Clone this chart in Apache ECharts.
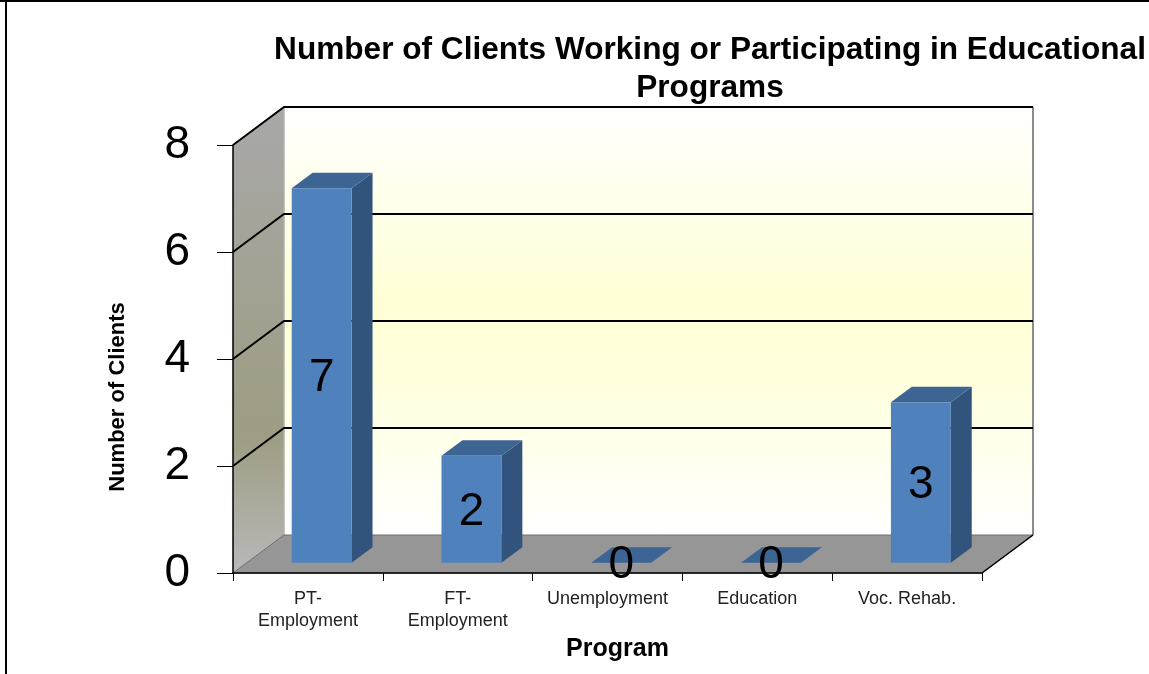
<!DOCTYPE html>
<html>
<head>
<meta charset="utf-8">
<script src="https://cdn.jsdelivr.net/npm/echarts@6/dist/echarts.min.js"></script>
<style>
html, body { margin: 0; padding: 0; background: #fff; }
#chart { width: 1149px; height: 674px; }
</style>
</head>
<body>
<div id="chart"></div>
<script>
var categories = ['PT-\nEmployment', 'FT-\nEmployment', 'Unemployment', 'Education', 'Voc. Rehab.'];
var clients = [7, 2, 0, 0, 3];
var yTicks = [0, 2, 4, 6, 8];

var DX = 51, DY = -38;          // depth of the 3d box
var FRONT = 0.27, BACK = 0.68;  // where the bars sit inside that depth
var FONT = '"Liberation Sans", Arial, sans-serif';

var chart = echarts.init(document.getElementById('chart'));

function renderWalls(params, api) {
	var cs = params.coordSys;
	var x0 = cs.x, x1 = cs.x + cs.width, yT = cs.y, yB = cs.y + cs.height;
	var kids = [];

	// left side wall
	kids.push({
		type: 'polygon',
		shape: { points: [[x0, yT], [x0 + DX, yT + DY], [x0 + DX, yB + DY], [x0, yB]] },
		style: {
			fill: new echarts.graphic.LinearGradient(0, 0, 0, 1, [
				{ offset: 0, color: '#a8a8a8' },
				{ offset: 0.7, color: '#9e9c82' },
				{ offset: 1, color: '#b8b8b8' }
			])
		}
	});
	// back wall
	kids.push({
		type: 'rect',
		shape: { x: x0 + DX, y: yT + DY, width: x1 - x0, height: yB - yT },
		style: {
			fill: new echarts.graphic.LinearGradient(0, 0, 0, 1, [
				{ offset: 0, color: '#ffffff' },
				{ offset: 0.45, color: '#ffffd6' },
				{ offset: 0.62, color: '#ffffdc' },
				{ offset: 1, color: '#ffffff' }
			])
		}
	});
	kids.push({
		type: 'line',
		shape: { x1: x0 + DX, y1: yT + DY, x2: x0 + DX, y2: yB + DY },
		style: { stroke: '#b0b0b0', lineWidth: 1.5 }
	});
	kids.push({
		type: 'line',
		shape: { x1: x1 + DX, y1: yT + DY, x2: x1 + DX, y2: yB + DY },
		style: { stroke: '#8c8c8c', lineWidth: 2 }
	});
	// floor
	kids.push({
		type: 'polygon',
		shape: { points: [[x0, yB], [x0 + DX, yB + DY], [x1 + DX, yB + DY], [x1, yB]] },
		style: { fill: '#969696', stroke: '#6e6e6e', lineWidth: 1 }
	});
	kids.push({
		type: 'line',
		shape: { x1: x1, y1: yB, x2: x1 + DX, y2: yB + DY },
		style: { stroke: '#000', lineWidth: 1.5 }
	});
	// gridlines bent over the side wall and the back wall
	yTicks.forEach(function (v) {
		if (v === 0) return;
		var y = api.coord([0, v])[1];
		kids.push({
			type: 'polyline',
			shape: { points: [[x0, y], [x0 + DX, y + DY], [x1 + DX, y + DY]] },
			style: { stroke: '#000', lineWidth: 2, fill: null }
		});
	});

	return { type: 'group', children: kids };
}

function renderBar(params, api) {
	var i = api.value(0), v = api.value(1);
	var top = api.coord([i, v]);
	var base = api.coord([i, 0]);
	var w = api.size([1, 0])[0] * 0.4;

	var fx = top[0] - w / 2 + FRONT * DX;
	var fyT = top[1] + FRONT * DY;
	var fyB = base[1] + FRONT * DY;
	var ox = (BACK - FRONT) * DX, oy = (BACK - FRONT) * DY;

	return {
		type: 'group',
		children: [
			{
				type: 'polygon',
				shape: { points: [[fx + w, fyT], [fx + w + ox, fyT + oy], [fx + w + ox, fyB + oy], [fx + w, fyB]] },
				style: { fill: '#32547c' }
			},
			{
				type: 'polygon',
				shape: { points: [[fx, fyT], [fx + ox, fyT + oy], [fx + w + ox, fyT + oy], [fx + w, fyT]] },
				style: { fill: '#3c6594' }
			},
			{
				type: 'rect',
				shape: { x: fx, y: fyT, width: w, height: fyB - fyT },
				style: { fill: '#4f81bd' }
			},
			{
				type: 'text',
				x: fx + w / 2,
				y: (fyT + fyB) / 2 + 3,
				style: {
					text: String(v),
					fontSize: 46,
					fontFamily: FONT,
					fill: '#000',
					align: 'center',
					verticalAlign: 'middle'
				}
			}
		]
	};
}

var option = {
	animation: false,
	backgroundColor: '#fff',
	title: {
		text: 'Number of Clients Working or Participating in Educational\nPrograms',
		left: 705,
		top: 26,
		textAlign: 'center',
		textStyle: {
			fontFamily: FONT,
			fontSize: 31.6,
			fontWeight: 'bold',
			lineHeight: 38,
			color: '#000'
		}
	},
	grid: { left: 233, right: 167, top: 145, bottom: 101 },
	xAxis: {
		type: 'category',
		data: categories,
		z: 10,
		name: 'Program',
		nameLocation: 'middle',
		nameGap: 58,
		nameTextStyle: {
			fontFamily: FONT, fontSize: 25, fontWeight: 'bold', color: '#000',
			padding: [0, 0, 0, 20]
		},
		axisLine: { lineStyle: { color: '#000', width: 1.5 } },
		axisTick: { show: true, length: 8, lineStyle: { color: '#000' } },
		axisLabel: {
			fontFamily: FONT, fontSize: 18, color: '#222',
			lineHeight: 22, margin: 15, interval: 0
		},
		splitLine: { show: false }
	},
	yAxis: {
		type: 'value',
		min: 0,
		max: 8,
		interval: 2,
		z: 10,
		name: 'Number of Clients',
		nameLocation: 'middle',
		nameRotate: 90,
		nameGap: 104,
		nameTextStyle: {
			fontFamily: FONT, fontSize: 22, fontWeight: 'bold', color: '#000',
			padding: [0, 76, 0, 0]
		},
		axisLine: { show: true, lineStyle: { color: '#000', width: 1.5 } },
		axisTick: { show: true, length: 16, lineStyle: { color: '#000' } },
		axisLabel: { fontFamily: FONT, fontSize: 46, color: '#000', margin: 43, padding: [8, 0, 0, 0] },
		splitLine: { show: false }
	},
	graphic: [
		{ type: 'line', shape: { x1: 0, y1: 1, x2: 1149, y2: 1 }, style: { stroke: '#000', lineWidth: 2 } },
		{ type: 'line', shape: { x1: 6, y1: 0, x2: 6, y2: 674 }, style: { stroke: '#000', lineWidth: 2 } }
	],
	series: [
		{
			type: 'custom',
			z: 1,
			silent: true,
			renderItem: renderWalls,
			data: [[0, 0]],
			encode: { x: 0, y: 1 }
		},
		{
			type: 'custom',
			z: 2,
			renderItem: renderBar,
			data: clients.map(function (v, i) { return [i, v]; }),
			encode: { x: 0, y: 1 }
		}
	]
};

chart.setOption(option);
</script>
</body>
</html>
